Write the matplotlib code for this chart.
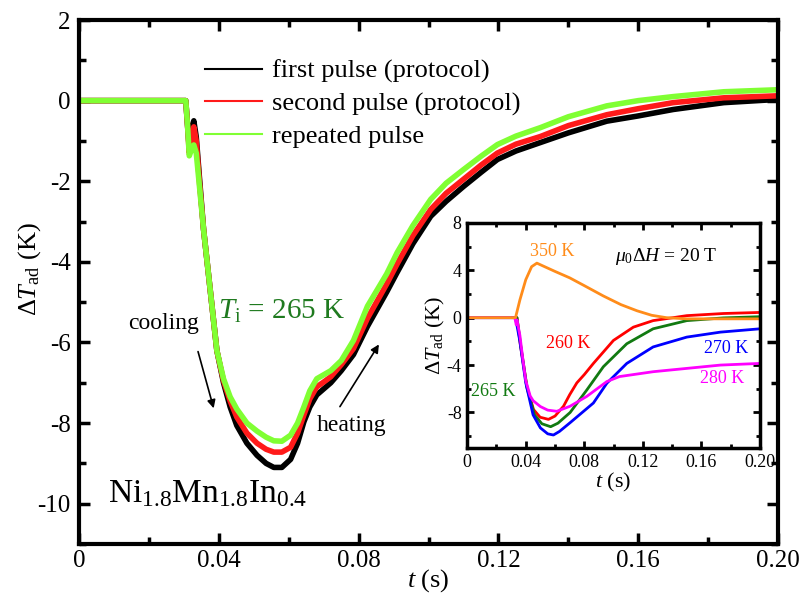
import matplotlib
matplotlib.use("Agg")
import matplotlib.pyplot as plt
from matplotlib.ticker import MultipleLocator, FixedLocator

plt.rcParams['font.family'] = ['Liberation Serif', 'DejaVu Serif']
plt.rcParams['mathtext.fontset'] = 'custom'
plt.rcParams['mathtext.rm'] = 'Liberation Serif'
plt.rcParams['mathtext.it'] = 'Liberation Serif:italic'
plt.rcParams['axes.unicode_minus'] = False

# ---------------- main data ----------------
t_main = [0, 0.0305, 0.031, 0.0315, 0.0322, 0.0328, 0.0335, 0.0345, 0.0356, 0.0375,
          0.0394, 0.0413, 0.0432, 0.0451, 0.048, 0.0509, 0.0535, 0.0557, 0.058, 0.0605,
          0.0625, 0.0643, 0.066, 0.068, 0.070, 0.072, 0.075, 0.0785, 0.0825, 0.088,
          0.091, 0.0955, 0.1006, 0.105, 0.110, 0.115, 0.1197, 0.125, 0.132, 0.14,
          0.151, 0.16, 0.170, 0.1845, 0.2]
first_pulse = [0, 0, -0.6, -1.2, -0.7, -0.5, -0.9, -2.0, -3.2, -4.7,
               -6.2, -7.0, -7.6, -8.06, -8.5, -8.8, -9.0, -9.1, -9.1, -8.9,
               -8.5, -7.97, -7.6, -7.3, -7.15, -7.0, -6.7, -6.3, -5.6, -4.75,
               -4.26, -3.55, -2.87, -2.5, -2.13, -1.78, -1.46, -1.25, -1.04, -0.8,
               -0.51, -0.38, -0.22, -0.05, 0.03]
second_pulse = [0, 0, -0.6, -1.3, -0.9, -0.65, -1.0, -2.1, -3.2, -4.7,
                -6.2, -6.95, -7.45, -7.85, -8.25, -8.5, -8.65, -8.72, -8.72, -8.6,
                -8.25, -7.8, -7.4, -7.1, -6.98, -6.85, -6.55, -6.15, -5.4, -4.55,
                -4.05, -3.35, -2.7, -2.3, -1.95, -1.6, -1.3, -1.08, -0.89, -0.62,
                -0.35, -0.2, -0.05, 0.07, 0.12]
repeated_pulse = [0, 0, -0.6, -1.37, -1.2, -1.1, -1.3, -2.2, -3.2, -4.7,
                  -6.2, -6.9, -7.35, -7.65, -8.0, -8.2, -8.35, -8.44, -8.45, -8.3,
                  -8.0, -7.6, -7.2, -6.9, -6.8, -6.7, -6.45, -5.95, -5.1, -4.3,
                  -3.77, -3.1, -2.45, -2.05, -1.71, -1.38, -1.09, -0.88, -0.67, -0.4,
                  -0.13, 0.0, 0.1, 0.22, 0.27]
main_labels = ['first pulse (protocol)', 'second pulse (protocol)', 'repeated pulse']
main_colors = ['#000000', '#ff1a1a', '#80ff33']

# ---------------- inset data ----------------
t_350 = [0, 0.033, 0.036, 0.040, 0.044, 0.0476, 0.052, 0.060, 0.070, 0.080, 0.093,
         0.105, 0.116, 0.126, 0.136, 0.150, 0.170, 0.200]
T_350 = [0, 0, 1.5, 3.2, 4.3, 4.6, 4.35, 3.9, 3.36, 2.7, 1.83,
         1.1, 0.58, 0.2, 0.0, -0.1, -0.1, -0.1]
t_260 = [0, 0.034, 0.0362, 0.0407, 0.0453, 0.0498, 0.0555, 0.060, 0.0658, 0.070,
         0.0749, 0.080, 0.0862, 0.0999, 0.1135, 0.127, 0.150, 0.175, 0.200]
T_260 = [0, 0, -2.2, -5.8, -7.75, -8.4, -8.58, -8.3, -7.47, -6.5,
         -5.5, -4.8, -3.86, -1.92, -0.8, -0.25, 0.17, 0.35, 0.44]
t_265 = [0, 0.034, 0.0365, 0.041, 0.046, 0.051, 0.057, 0.062, 0.0703, 0.0817,
         0.093, 0.109, 0.127, 0.150, 0.175, 0.200]
T_265 = [0, 0, -2.3, -6.0, -8.2, -8.95, -9.2, -8.9, -8.0, -6.1,
         -4.14, -2.2, -0.94, -0.25, -0.02, 0.08]
t_270 = [0, 0.033, 0.036, 0.040, 0.045, 0.050, 0.055, 0.0589, 0.063, 0.0703,
         0.0862, 0.0954, 0.109, 0.127, 0.150, 0.173, 0.200]
T_270 = [0, 0, -2.0, -5.5, -8.2, -9.3, -9.8, -9.9, -9.6, -8.86,
         -7.2, -5.53, -3.86, -2.47, -1.64, -1.22, -0.94]
t_280 = [0, 0.0325, 0.0335, 0.034, 0.036, 0.038, 0.040, 0.043, 0.045, 0.050,
         0.055, 0.0612, 0.0703, 0.0817, 0.0954, 0.104, 0.127, 0.150, 0.173, 0.200]
T_280 = [0, 0, -0.6, -0.2, -1.5, -3.5, -5.3, -6.6, -7.0, -7.5,
         -7.8, -7.9, -7.47, -6.64, -5.39, -4.97, -4.56, -4.28, -4.0, -3.86]

inset_series = [(t_260, T_260, '#ff0000'), (t_265, T_265, '#117a11'),
                (t_270, T_270, '#0000ff'), (t_280, T_280, '#ff00ff'),
                (t_350, T_350, '#ff8c1a')]

# ---------------- figure ----------------
fig = plt.figure(figsize=(8.0, 5.99), dpi=100)
ax = fig.add_axes([0.099, 0.0918, 0.8735, 0.8748])

for y, lab, c in zip([first_pulse, second_pulse, repeated_pulse], main_labels, main_colors):
    ax.plot(t_main, y, color=c, lw=4, label=lab, solid_joinstyle='round')

ax.set_xlim(0, 0.2)
ax.set_ylim(-11, 2)
ax.xaxis.set_major_locator(FixedLocator([0, 0.04, 0.08, 0.12, 0.16, 0.20]))
ax.set_xticklabels(['0', '0.04', '0.08', '0.12', '0.16', '0.20'])
ax.xaxis.set_minor_locator(MultipleLocator(0.02))
ax.yaxis.set_major_locator(MultipleLocator(2))
ax.yaxis.set_minor_locator(MultipleLocator(1))
for s in ax.spines.values():
    s.set_linewidth(3)
ax.tick_params(which='both', direction='in', top=True, right=True, labelsize=18, width=2.5)
ax.tick_params(which='major', length=8)
ax.tick_params(axis='x', which='major', pad=4)
ax.tick_params(axis='y', which='major', pad=6)
ax.tick_params(which='minor', length=5)
ax.set_xlabel(r'$t$ (s)', fontsize=19, labelpad=-3)
ax.set_ylabel(r'$\Delta T_{\rm ad}$ (K)', fontsize=19)
ax.yaxis.set_label_coords(-0.052, 0.525)

leg = ax.legend(loc='upper left', bbox_to_anchor=(0.165, 0.945), frameon=False,
                fontsize=19, handlelength=2.15, handletextpad=0.4, labelspacing=0.33,
                borderaxespad=0)
for h in leg.get_lines():
    h.set_linewidth(1.5)

ax.text(0.0241, -5.54, 'cooling', fontsize=17, ha='center', va='center')
ax.annotate('', xy=(0.0387, -7.7), xytext=(0.0338, -6.16),
            arrowprops=dict(arrowstyle='-|>', color='black', lw=1.2, mutation_scale=12))
ax.text(0.0679, -8.07, 'heating', fontsize=17, ha='left', va='center')
ax.annotate('', xy=(0.0862, -5.99), xytext=(0.0742, -7.65),
            arrowprops=dict(arrowstyle='-|>', color='black', lw=1.2, mutation_scale=12))
ax.text(0.0397, -5.22, r'$T_{\rm i}$ = 265 K', fontsize=21, color='#1f7a1f',
        ha='left', va='center')
ax.text(0.0083, -9.75, r'Ni$_{1.8}$Mn$_{1.8}$In$_{0.4}$', fontsize=24,
        ha='left', va='center')

# ---------------- inset ----------------
axi = fig.add_axes([0.584, 0.252, 0.366, 0.376])
for tt, TT, c in inset_series:
    axi.plot(tt, TT, color=c, lw=2)
axi.set_xlim(0, 0.2)
axi.set_ylim(-11, 8)
axi.xaxis.set_major_locator(FixedLocator([0, 0.04, 0.08, 0.12, 0.16, 0.20]))
axi.set_xticklabels(['0', '0.04', '0.08', '0.12', '0.16', '0.20'])
axi.xaxis.set_minor_locator(MultipleLocator(0.02))
axi.yaxis.set_major_locator(MultipleLocator(4))
axi.yaxis.set_minor_locator(MultipleLocator(2))
for s in axi.spines.values():
    s.set_linewidth(2.5)
axi.tick_params(which='both', direction='in', top=True, right=True, labelsize=13, width=2)
axi.tick_params(which='major', length=5, pad=4)
axi.tick_params(which='minor', length=3)
axi.set_xlabel(r'$t$ (s)', fontsize=16, labelpad=0)
axi.set_ylabel(r'$\Delta T_{\rm ad}$ (K)', fontsize=16, labelpad=0)

axi.text(0.0578, 5.58, '350 K', color='#ff8c1a', fontsize=13, ha='center', va='center')
axi.text(0.136, 5.17, r'$\mu_0\Delta H$ = 20 T', color='black', fontsize=14,
         ha='center', va='center')
axi.text(0.0692, -2.2, '260 K', color='#ff0000', fontsize=13, ha='center', va='center')
axi.text(0.018, -6.2, '265 K', color='#117a11', fontsize=13, ha='center', va='center')
axi.text(0.177, -2.6, '270 K', color='#0000ff', fontsize=13, ha='center', va='center')
axi.text(0.174, -5.1, '280 K', color='#ff00ff', fontsize=13, ha='center', va='center')

fig.savefig('out.png', dpi=100)
